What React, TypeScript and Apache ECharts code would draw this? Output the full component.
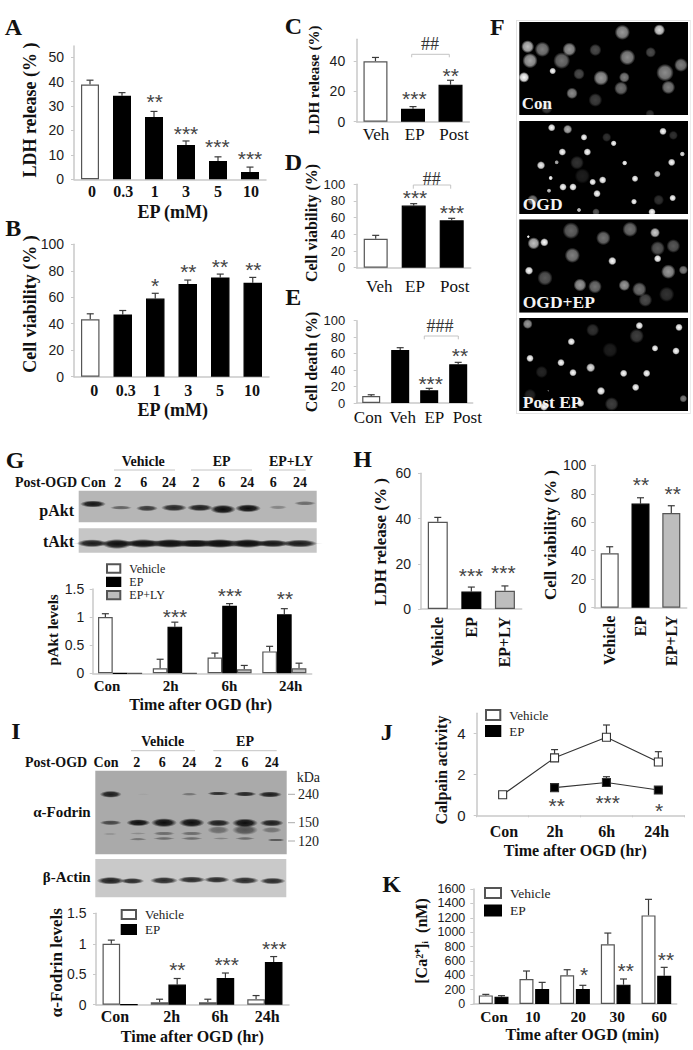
import React, { useEffect, useRef } from "react";
import * as echarts from "echarts";

const SERIF = '"Liberation Serif"';
const SANS = '"Liberation Sans"';

// ---- data ----
const doseCats = ["0", "0.3", "1", "3", "5", "10"];
const aValues = [38.8, 34.2, 25.5, 14, 7.5, 3];
const aErrTop = [40.6, 35.5, 27.8, 15.7, 9.2, 5];
const aTicks = [0, 10, 20, 30, 40, 50];
const bValues = [43.3, 47, 59, 70, 75, 71];
const bErrTop = [47.5, 50, 63, 73, 77.5, 75];
const pctTicks = [0, 20, 40, 60, 80, 100];
const vepCats = ["Veh", "EP", "Post"];
const cValues = [40, 8.5, 24.5];
const cErrTop = [42.5, 10, 27.4];
const cTicks = [0, 20, 40];
const dValues = [34.8, 74.5, 56.8];
const dErrTop = [38.8, 76.8, 59.2];
const eCats = ["Con", "Veh", "EP", "Post"];
const eValues = [8.5, 64.4, 15.4, 47];
const eErrTop = [10, 67.2, 17.8, 49.4];
const timeCats = ["Con", "2h", "6h", "24h"];
const gVehicle = [1, 0.09, 0.28, 0.39];
const gVehicleErr = [1.06, 0.25, 0.36, 0.48];
const gEP = [0, 0.83, 1.2, 1.05];
const gEPErr = [null, 0.91, 1.24, 1.15];
const gLY = [0, 0, 0.07, 0.09];
const gLYErr = [null, null, 0.14, 0.18];
const levelTicks = [0, 0.5, 1, 1.5];
const hCats = ["Vehicle", "EP", "EP+LY"];
const hLdh = [38.6, 7.7, 8.1];
const hLdhErr = [40.5, 9.7, 10.2];
const hLdhTicks = [0, 20, 40, 60];
const hVia = [38.2, 73.1, 66.5];
const hViaErr = [42.8, 77.2, 71.6];
const iVehicle = [1, 0.04, 0.04, 0.09];
const iVehicleErr = [1.06, 0.09, 0.09, 0.15];
const iEP = [0, 0.33, 0.44, 0.7];
const iEPErr = [null, 0.43, 0.52, 0.79];
const jVehicle = [1, 2.8, 3.8, 2.6];
const jVehicleErr = [null, 3.2, 4.4, 3.1];
const jEP = [null, 1.35, 1.6, 1.23];
const jEPErr = [null, null, 1.88, null];
const jTicks = [0, 2, 4];
const kCats = ["Con", "10", "20", "30", "60"];
const kVehicle = [120, 348, 399, 830, 1233];
const kVehicleErr = [134, 459, 477, 987, 1456];
const kEP = [102, 209, 209, 269, 394];
const kEPErr = [116, 301, 260, 348, 510];
const kTicks = [0, 200, 400, 600, 800, 1000, 1200, 1400, 1600];

// ---- colours ----
const WHITE = "#ffffff";
const BLACK = "#000000";
const GREY = "#bdbdbd";
const BORDER = "#555555";
const AXIS = "#c9c9c9";
const ERR = "#3a3a3a";

// ---- annotations: [x, y, text] ----
const stars: [number, number, string][] = [
  [154.7, 100, "**"], [186, 131.7, "***"], [217.3, 145, "***"], [250, 157.3, "***"],
  [155, 284.3, "*"], [188.3, 270, "**"], [220, 265, "**"], [253.3, 267.7, "**"],
  [414.3, 97.3, "***"], [450.7, 74, "**"],
  [415, 195.7, "***"], [452, 211, "***"],
  [430.7, 381.7, "***"], [460, 354.3, "**"],
  [175, 615, "***"], [230, 594.3, "***"], [285, 597.3, "**"],
  [471, 574.3, "***"], [503.3, 570.7, "***"],
  [641, 483.3, "**"], [672.7, 492.3, "**"],
  [177.3, 968.3, "**"], [226.7, 962.7, "***"], [274.3, 947.3, "***"],
  [556.7, 804, "**"], [607.7, 801, "***"], [659, 809, "*"],
  [584, 972.7, "*"], [625.7, 969.3, "**"], [666, 957.7, "**"],
];
const letters: [number, number, string][] = [
  [13.3, 26.7, "A"], [13.3, 228.3, "B"], [293.3, 25.7, "C"], [293.3, 162.3, "D"], [293.3, 297.3, "E"],
  [497.3, 26.7, "F"], [15, 460, "G"], [362.7, 459.3, "H"], [16, 730.7, "I"], [386.7, 731.7, "J"], [391.7, 884, "K"],
];
// [x1, x2, y, tickDrop, labelX, labelY, label]
const brackets: [number, number, number, number, number, number, string][] = [
  [411.7, 449.3, 54.3, 3, 430, 44, "##"],
  [413.3, 450.7, 185, 3.7, 431.7, 178.7, "##"],
  [424.3, 458.3, 336, 3.3, 440, 326, "###"],
];
// Western-blot lanes: [x, y, halfWidth, halfHeight, strength]
const pAktBands = [
  [93, 504, 13, 3.5, 0.95], [121, 507.7, 11, 2, 0.5], [147, 508.3, 11, 3, 0.75], [174, 507.7, 13, 3.5, 0.85],
  [200, 507.7, 13, 3.5, 0.9], [223, 509.3, 13, 4.5, 1], [248, 508.3, 13, 4, 1], [278, 507.3, 9, 2, 0.3], [305, 503.3, 11, 2.2, 0.45],
];
const tAktBands = [
  [197, 543.5, 126, 3.6, 0.75],
  [92, 543.3, 15, 4, 0.9], [117, 544, 15, 5, 0.95], [143, 543.5, 16, 4.5, 0.9], [170, 543.5, 16, 4.5, 0.9],
  [195, 543.5, 16, 4, 0.9], [220, 543.5, 16, 4.5, 0.95], [248, 543.5, 16, 4.5, 0.95], [273, 543.5, 15, 4, 0.85], [300, 543.5, 17, 4, 0.9],
];
const fodrinBands = [
  [110.7, 794.3, 11, 3.5, 0.9], [143.3, 794.3, 6, 1, 0.05], [189.3, 794.3, 8, 1.5, 0.35], [218.3, 793.5, 11, 2, 0.8], [245, 794, 11.5, 2.5, 0.85], [270, 794.5, 12, 3, 0.9],
  [110.7, 822.7, 11, 2.5, 0.65], [138.3, 822.7, 12, 3.5, 1], [164, 822.7, 13, 4.5, 1], [191.7, 822.7, 13, 4.5, 1], [218.3, 823, 12, 3.5, 0.9], [245, 823, 13, 4.5, 1], [271.7, 823, 12, 3.5, 0.9],
  [110, 834, 8, 1, 0.15], [138, 833.5, 8, 1.2, 0.2], [138, 839.3, 9, 1.4, 0.35], [164, 833.5, 11, 2, 0.4], [164, 838.5, 11, 1.5, 0.4],
  [191.7, 833.5, 11, 2, 0.4], [191.7, 838.5, 11, 1.5, 0.4], [218.3, 830, 11, 4, 0.4], [221, 838.5, 8, 1.2, 0.25],
  [245, 830, 13, 5, 0.55], [245, 838.5, 10, 1.5, 0.4], [271.7, 830, 10, 3, 0.35], [276, 840, 9, 1.5, 0.55],
];
const actinBands = [
  [110.7, 880.7, 14, 3.8, 0.9], [132.3, 881, 12, 3, 0.85], [164, 880.5, 14, 3.5, 0.85], [191.7, 879.7, 14, 3.3, 0.85],
  [216.7, 879.7, 13, 3.2, 0.85], [245, 880.5, 14, 3.5, 0.85], [272.7, 881, 13, 3.3, 0.85],
];
// Micrograph nuclei, in a 3x working grid: [x, y, radius, brightness]
const nucleiCon = [
  [563, 140, 17, 0.75], [607, 148, 20, 0.5], [570, 182, 20, 0.65], [665, 182, 22, 0.45], [688, 148, 18, 0.6], [766, 150, 16, 0.3],
  [847, 97, 20, 0.6], [958, 90, 15, 0.85], [862, 172, 21, 0.55], [932, 157, 14, 0.3], [638, 213, 9, 1], [717, 222, 15, 0.3],
  [552, 232, 14, 1], [783, 234, 20, 0.6], [853, 232, 14, 0.5], [975, 218, 23, 0.55], [1023, 195, 18, 0.5], [843, 265, 18, 0.45],
  [985, 262, 18, 0.5], [696, 280, 15, 0.55], [766, 300, 18, 0.25], [620, 325, 15, 0.25], [930, 342, 12, 0.2],
];
const nucleiOGD = [
  [635, 383, 10, 1], [683, 388, 12, 0.7], [732, 412, 9, 1], [800, 412, 12, 0.2], [821, 430, 8, 1], [969, 394, 10, 1], [1000, 406, 12, 0.2],
  [667, 456, 10, 1], [742, 456, 10, 1], [1027, 462, 7, 0.9], [603, 496, 11, 0.95], [650, 487, 6, 0.7], [711, 488, 18, 0.2], [854, 489, 7, 1],
  [995, 487, 10, 1], [727, 528, 20, 0.12], [632, 534, 6, 1], [952, 522, 9, 0.8], [669, 561, 10, 1], [699, 561, 10, 1], [758, 546, 9, 1],
  [788, 540, 10, 1], [885, 536, 9, 1], [627, 572, 6, 0.8], [771, 581, 10, 1], [578, 600, 14, 0.5], [882, 605, 8, 1], [956, 600, 14, 0.2],
  [998, 594, 9, 1], [717, 630, 6, 0.8], [768, 636, 10, 0.35], [936, 636, 10, 1],
];
const nucleiOGDEP = [
  [565, 710, 4, 1], [581, 730, 16, 0.75], [613, 727, 11, 1], [693, 692, 22, 0.4], [790, 714, 19, 0.45], [870, 688, 20, 0.45], [945, 698, 13, 0.8],
  [697, 766, 20, 0.5], [953, 745, 19, 0.35], [1000, 738, 18, 0.35], [953, 776, 10, 1], [817, 783, 11, 1], [567, 812, 11, 1], [615, 834, 20, 0.35],
  [985, 815, 19, 0.6], [1030, 810, 12, 0.5], [720, 855, 17, 0.6], [765, 860, 18, 0.45], [853, 856, 15, 0.6], [898, 868, 19, 0.45], [916, 900, 18, 0.3], [980, 883, 20, 0.2],
];
const nucleiPost = [
  [563, 972, 13, 0.6], [758, 990, 17, 0.2], [898, 977, 10, 1], [1017, 982, 10, 1], [890, 1008, 19, 0.25], [694, 1025, 10, 1], [810, 1050, 20, 0.12],
  [945, 1045, 9, 1], [1008, 1053, 10, 1], [570, 1075, 10, 1], [663, 1088, 10, 1], [605, 1116, 16, 0.15], [699, 1118, 10, 1], [752, 1103, 12, 0.9],
  [851, 1120, 10, 1], [920, 1120, 10, 1], [887, 1162, 10, 1], [783, 1173, 11, 1], [625, 1172, 3, 0.4], [570, 1185, 16, 0.15], [1030, 1196, 10, 0.5],
  [722, 1210, 10, 1], [815, 1212, 18, 0.25], [612, 1220, 11, 1],
];

// ---- option builders ----
type SeriesDef = { name: string; values: (number | null)[]; err: (number | null)[]; color?: string; colors?: string[]; line?: boolean };
type PanelDef = {
  rect: [number, number, number, number];
  max: number;
  ticks: number[];
  tickSize?: number;
  tickMargin?: number;
  cats: string[];
  series: SeriesDef[];
  barWidth: number;
  barGap?: number;
  catFont: string;
  catSize: number;
  catY?: number;
  catX?: number[];
  catRotate?: number;
  xName?: string;
  xNameAt?: [number, number];
  xNameSize?: number;
  yName: string;
  yNameAt: [number, number];
  yNameSize: number;
  capHalf?: number;
  catTicks?: boolean;
};

const grids: any[] = [];
const xAxes: any[] = [];
const yAxes: any[] = [];
const seriesList: any[] = [];

function shiftPadding(d: number) {
  return d >= 0 ? [0, 0, 0, 2 * d] : [0, -2 * d, 0, 0];
}

function addPanel(p: PanelDef) {
  const [l, t, r, b] = p.rect;
  const gridIndex = grids.length;
  grids.push({ left: l, top: t, width: r - l, height: b - t, containLabel: false });
  const band = (r - l) / p.cats.length;
  const catData = p.cats.map((c, i) =>
    p.catX
      ? { value: c, textStyle: { padding: shiftPadding(p.catX[i] - (l + band * (i + 0.5))) } }
      : c
  );
  const x: any = {
    type: "category",
    gridIndex,
    data: catData,
    boundaryGap: true,
    axisLine: { show: true, lineStyle: { color: AXIS, width: 1.5 } },
    axisTick: { show: !!p.catTicks, length: 2, lineStyle: { color: AXIS } },
    axisLabel: {
      interval: 0,
      hideOverlap: false,
      rotate: p.catRotate || 0,
      margin: p.catRotate ? 8 : (p.catY as number) - b - p.catSize / 2,
      color: "#111",
      fontFamily: SERIF,
      fontWeight: p.catFont,
      fontSize: p.catSize,
    },
    splitLine: { show: false },
  };
  if (p.xName && p.xNameAt) {
    const size = p.xNameSize || 16;
    Object.assign(x, {
      name: p.xName,
      nameLocation: "middle",
      nameMoveOverlap: false,
      nameGap: p.xNameAt[1] - b - size / 2,
      nameTextStyle: {
        fontFamily: SERIF,
        fontWeight: "bold",
        fontSize: size,
        color: "#111",
        padding: shiftPadding(p.xNameAt[0] - (l + r) / 2),
      },
    });
  }
  xAxes.push(x);
  yAxes.push({
    type: "value",
    gridIndex,
    min: 0,
    max: p.max,
    name: p.yName,
    nameLocation: "middle",
    nameRotate: 90,
    nameMoveOverlap: false,
    nameGap: l - p.yNameAt[0] - p.yNameSize / 2,
    nameTextStyle: {
      fontFamily: SERIF,
      fontWeight: "bold",
      fontSize: p.yNameSize,
      color: "#111",
      padding: shiftPadding((t + b) / 2 - p.yNameAt[1]),
    },
    axisLine: { show: true, lineStyle: { color: AXIS, width: 1.5 } },
    axisTick: { show: true, length: 3, lineStyle: { color: AXIS }, customValues: p.ticks },
    axisLabel: {
      customValues: p.ticks,
      formatter: (v: number) => String(v),
      margin: p.tickMargin ?? 10,
      color: "#1c1c1c",
      fontFamily: SANS,
      fontSize: p.tickSize || 14,
    },
    splitLine: { show: false },
  });
  const n = p.series.filter((s) => !s.line).length || 1;
  const gap = p.barGap ?? 0;
  p.series.forEach((s, idx) => {
    const dx = s.line ? 0 : (idx - (n - 1) / 2) * p.barWidth * (1 + gap);
    const errData = s.values
      .map((v, i) => [i, v, s.err[i]])
      .filter((d) => d[1] !== null && d[2] !== null);
    const cap = p.capHalf ?? 3.5;
    seriesList.push({
      type: "custom",
      name: s.name + " error",
      xAxisIndex: gridIndex,
      yAxisIndex: gridIndex,
      data: errData,
      encode: { x: 0, y: [1, 2] },
      silent: true,
      z: 1,
      renderItem: (_: any, api: any) => {
        const a = api.coord([api.value(0), api.value(1)]);
        const e = api.coord([api.value(0), api.value(2)]);
        const st = { stroke: ERR, lineWidth: 1.2, fill: "none" };
        return {
          type: "group",
          children: [
            { type: "line", shape: { x1: a[0] + dx, y1: a[1], x2: e[0] + dx, y2: e[1] }, style: st },
            { type: "line", shape: { x1: a[0] + dx - cap, y1: e[1], x2: a[0] + dx + cap, y2: e[1] }, style: st },
          ],
        };
      },
    });
    if (s.line) {
      seriesList.push({
        type: "line",
        name: s.name,
        xAxisIndex: gridIndex,
        yAxisIndex: gridIndex,
        data: s.values,
        symbol: "rect",
        symbolSize: 8,
        showSymbol: true,
        z: 3,
        lineStyle: { color: "#333", width: 1.1 },
        itemStyle: { color: s.color, borderColor: "#333", borderWidth: 1.1 },
      });
    } else {
      const base = s.color || (s.colors as string[])[0];
      seriesList.push({
        type: "bar",
        name: s.name,
        xAxisIndex: gridIndex,
        yAxisIndex: gridIndex,
        barWidth: p.barWidth,
        barGap: `${gap * 100}%`,
        z: 2,
        itemStyle: { color: base, borderColor: base === BLACK ? BLACK : BORDER, borderWidth: 1.2 },
        data: s.values.map((v, i) => {
          const c = s.colors ? s.colors[i] : (s.color as string);
          return {
            value: v,
            itemStyle: { color: c, borderColor: c === BLACK ? BLACK : BORDER, borderWidth: 1.2 },
          };
        }),
      });
    }
  });
}

const whiteThenBlack = (n: number) => [WHITE, ...Array(n - 1).fill(BLACK)];

addPanel({
  rect: [74, 46, 266, 179.3], max: 54.6, ticks: aTicks, cats: doseCats, barWidth: 18,
  series: [{ name: "LDH release", values: aValues, err: aErrTop, colors: whiteThenBlack(6) }],
  catFont: "bold", catSize: 16, catY: 191, catX: [92, 123.3, 154.7, 186, 218, 251],
  xName: "EP (mM)", xNameAt: [172.7, 211.7], xNameSize: 18,
  yName: "LDH release (% )", yNameAt: [30, 110], yNameSize: 18,
});
addPanel({
  rect: [74, 244.3, 269, 376.7], max: 100, ticks: pctTicks, cats: doseCats, barWidth: 18.5,
  series: [{ name: "Cell viability", values: bValues, err: bErrTop, colors: whiteThenBlack(6) }],
  catFont: "bold", catSize: 16, catY: 390, catX: [94.3, 125.7, 156.7, 188.3, 220, 252],
  xName: "EP (mM)", xNameAt: [172.7, 410], xNameSize: 18,
  yName: "Cell viability (% )", yNameAt: [30, 304], yNameSize: 18,
});
addPanel({
  rect: [356.7, 39.3, 469.3, 121.7], max: 54.5, ticks: cTicks, cats: vepCats, barWidth: 24,
  series: [{ name: "LDH", values: cValues, err: cErrTop, colors: whiteThenBlack(3) }],
  catFont: "normal", catSize: 17, catY: 134.7, catX: [376, 414.7, 454], tickMargin: 11.5,
  yName: "LDH release (%)", yNameAt: [314, 80], yNameSize: 15,
});
addPanel({
  rect: [356.7, 184.3, 470.7, 267.7], max: 100, ticks: pctTicks, cats: vepCats, barWidth: 24, tickSize: 13, tickMargin: 11.5,
  series: [{ name: "Viability", values: dValues, err: dErrTop, colors: whiteThenBlack(3) }],
  catFont: "normal", catSize: 17, catY: 286, catX: [379.3, 415, 454.7],
  yName: "Cell viability (%)", yNameAt: [311, 223], yNameSize: 16,
});
addPanel({
  rect: [356.7, 320.7, 472.7, 403], max: 100, ticks: pctTicks, cats: eCats, barWidth: 18, tickSize: 13, tickMargin: 11.5,
  series: [{ name: "Death", values: eValues, err: eErrTop, colors: whiteThenBlack(4) }],
  catFont: "normal", catSize: 17, catY: 417.7, catX: [368, 402.7, 434.3, 467.3],
  yName: "Cell death (%)", yNameAt: [311, 362], yNameSize: 16,
});
addPanel({
  rect: [92.7, 589, 311.7, 673.3], max: 1.5, ticks: levelTicks, cats: timeCats, barWidth: 14.7, tickMargin: 8.5,
  series: [
    { name: "Vehicle", values: gVehicle, err: gVehicleErr, color: WHITE },
    { name: "EP", values: gEP, err: gEPErr, color: BLACK },
    { name: "EP+LY", values: gLY, err: gLYErr, color: GREY },
  ],
  catFont: "bold", catSize: 15, catY: 686, catX: [107, 170.7, 229.3, 290.7],
  xName: "Time after OGD (hr)", xNameAt: [200.7, 704.3], xNameSize: 16,
  yName: "pAkt levels", yNameAt: [53, 630], yNameSize: 15,
});
addPanel({
  rect: [421, 473.3, 521.7, 609], max: 60, ticks: hLdhTicks, cats: hCats, barWidth: 20,
  series: [{ name: "LDH H", values: hLdh, err: hLdhErr, colors: [WHITE, BLACK, GREY] }],
  catFont: "bold", catSize: 16, catRotate: 90,
  yName: "LDH release (% )", yNameAt: [380.7, 542], yNameSize: 17,
});
addPanel({
  rect: [594.3, 465.3, 686.7, 607.7], max: 100, ticks: pctTicks, cats: hCats, barWidth: 18, tickMargin: 8,
  series: [{ name: "Viability H", values: hVia, err: hViaErr, colors: [WHITE, BLACK, GREY] }],
  catFont: "bold", catSize: 16, catRotate: 90,
  yName: "Cell viability (% )", yNameAt: [550, 535], yNameSize: 17,
});
addPanel({
  rect: [96, 913.3, 289, 1004.7], max: 1.5, ticks: levelTicks, cats: timeCats, barWidth: 17.6, tickMargin: 9.5,
  series: [
    { name: "Vehicle", values: iVehicle, err: iVehicleErr, color: WHITE },
    { name: "EP", values: iEP, err: iEPErr, color: BLACK },
  ],
  catFont: "bold", catSize: 16, catY: 1016.7, catX: [115, 171.7, 220, 267.3],
  xName: "Time after OGD (hr)", xNameAt: [192.3, 1036.7], xNameSize: 16,
  yName: "α-Fodrin levels", yNameAt: [56, 962.7], yNameSize: 17,
});
addPanel({
  rect: [476.7, 713.3, 684.3, 815.3], max: 4.97, ticks: jTicks, cats: timeCats, barWidth: 10, tickMargin: 11, tickSize: 15, catTicks: true,
  series: [
    { name: "Vehicle", values: jVehicle, err: jVehicleErr, color: WHITE, line: true },
    { name: "EP", values: jEP, err: jEPErr, color: BLACK, line: true },
  ],
  catFont: "bold", catSize: 16, catY: 831.7, catX: [504, 555, 606.7, 656.7],
  xName: "Time after OGD (hr)", xNameAt: [575.3, 850.7], xNameSize: 16,
  yName: "Calpain activity", yNameAt: [441.7, 770], yNameSize: 16,
});
addPanel({
  rect: [473.3, 889, 676.7, 1004], max: 1600, ticks: kTicks, cats: kCats, barWidth: 14, barGap: 0.12, tickSize: 12.5, tickMargin: 8,
  series: [
    { name: "Vehicle", values: kVehicle, err: kVehicleErr, color: WHITE },
    { name: "EP", values: kEP, err: kEPErr, color: BLACK },
  ],
  catFont: "bold", catSize: 15.5, catY: 1016, catX: [494, 532.7, 578.3, 617.3, 659.3],
  xName: "Time after OGD (min)", xNameAt: [582.3, 1034.3], xNameSize: 16,
  yName: "[Ca²⁺]ᵢ  (nM)", yNameAt: [421.7, 941], yNameSize: 16,
});

function legend(left: number, top: number, w: number, h: number, gap: number, size: number, names: string[]) {
  return {
    left, top, orient: "vertical", icon: "rect", itemWidth: w, itemHeight: h, itemGap: gap, padding: 0, selectedMode: false,
    data: names,
    textStyle: { fontFamily: SERIF, fontSize: size, color: "#222", padding: [0, 0, 0, 4] },
  };
}
const legends = [
  legend(106, 562.5, 13.3, 8.3, 1.3, 12, ["Vehicle", "EP", "EP+LY"]),
  legend(120.7, 908, 14.3, 9, 2, 13, ["Vehicle", "EP"]),
  legend(485, 708.5, 14.3, 10, 3, 13, ["Vehicle", "EP"]),
  legend(484, 886, 16, 10, 3.5, 13.5, ["Vehicle", "EP"]),
];

// ---- graphic helpers ----
function label(x: number, y: number, text: string, font: string, align = "center", fill = "#111") {
  return {
    type: "text",
    silent: true,
    x, y,
    style: { text, font, fill, align, verticalAlign: "middle", textAlign: align, textVerticalAlign: "middle" },
  };
}
function box(x: number, y: number, w: number, h: number, fill: string) {
  return { type: "rect", silent: true, shape: { x, y, width: w, height: h }, style: { fill } };
}
function seg(x1: number, y1: number, x2: number, y2: number, stroke = "#c4c4c4", lineWidth = 1) {
  return { type: "line", silent: true, shape: { x1, y1, x2, y2 }, style: { stroke, lineWidth } };
}
function band(b: number[]) {
  const [cx, cy, rx, ry, s] = b;
  return {
    type: "ellipse",
    silent: true,
    shape: { cx, cy, rx, ry },
    style: {
      fill: new echarts.graphic.RadialGradient(0.5, 0.5, 0.5, [
        { offset: 0, color: `rgba(12,12,12,${s})` },
        { offset: 0.6, color: `rgba(12,12,12,${s * 0.85})` },
        { offset: 1, color: "rgba(12,12,12,0)" },
      ]),
    },
  };
}
function nucleus(n: number[]) {
  const [zx, zy, zr, v] = n;
  const x = 340 + zx / 3;
  const y = zy / 3;
  const r = (zr / 3) * 1.15;
  const c = (a: number) => `rgba(255,255,255,${a})`;
  return {
    type: "circle",
    silent: true,
    shape: { cx: x, cy: y, r },
    style: {
      fill: new echarts.graphic.RadialGradient(0.5, 0.5, 0.5, [
        { offset: 0, color: c(v) },
        { offset: 0.65, color: c(v * 0.8) },
        { offset: 1, color: c(0) },
      ]),
    },
  };
}

const B14 = `bold 14px ${SERIF}`;
const B16 = `bold 16px ${SERIF}`;
const STAR_FONT = `21px ${SANS}`;
const elements: any[] = [];

letters.forEach(([x, y, t]) => elements.push(label(x, y, t, `bold 24px ${SERIF}`)));
stars.forEach(([x, y, t]) => elements.push(label(x, y + 1.5, t, STAR_FONT, "center", "#444")));
brackets.forEach(([x1, x2, y, d, lx, ly, t]) => {
  elements.push(seg(x1, y, x2, y), seg(x1, y, x1, y + d), seg(x2, y, x2, y + d));
  elements.push(label(lx, ly, t, `18px ${SERIF}`, "center", "#333"));
});

// F: micrographs
elements.push(box(516, 20, 174.7, 394, "#e4e4e4"), box(517, 21, 172.7, 392, "#ffffff"));
[[22, 115], [121, 214], [219.3, 312.7], [318, 411]].forEach(([a, b]) => elements.push(box(519.3, a, 168.7, b - a, "#000")));
[...nucleiCon, ...nucleiOGD, ...nucleiOGDEP, ...nucleiPost].forEach((n) => elements.push(nucleus(n)));
[[115, 6], [214, 5.3], [312.7, 5.3], [411, 2]].forEach(([y, h]) => elements.push(box(517, y, 172.7, h, "#fff")));
elements.push(box(688, 21, 1.7, 392, "#fff"));
elements.push(label(521.7, 103.3, "Con", `bold 17px ${SERIF}`, "left", "#f4f4f4"));
elements.push(label(522.7, 204, "OGD", `bold 17.5px ${SERIF}`, "left", "#f4f4f4"));
elements.push(label(522.7, 302, "OGD+EP", `bold 17.5px ${SERIF}`, "left", "#f4f4f4"));
elements.push(label(522.7, 401.7, "Post EP", `bold 17.5px ${SERIF}`, "left", "#f4f4f4"));

// G: blots
elements.push(box(78.7, 490.7, 238, 31.6, "#b6b6b6"), box(78.7, 528.3, 238, 24.4, "#c6c6c6"));
pAktBands.forEach((b) => elements.push(band(b)));
tAktBands.forEach((b) => elements.push(band(b)));
elements.push(label(143.3, 461.7, "Vehicle", B14), label(221.7, 461.7, "EP", B14), label(291, 461.7, "EP+LY", B14));
elements.push(seg(114, 470, 175, 470), seg(191, 470, 252, 470), seg(269, 470, 305.7, 470));
elements.push(label(15, 482.7, "Post-OGD", B14, "left"));
([[93.3, "Con"], [117.7, "2"], [143.7, "6"], [169, "24"], [196, "2"], [221.7, "6"], [247.3, "24"], [273.3, "6"], [300, "24"]] as [number, string][]).forEach(([x, t]) =>
  elements.push(label(x, 482.7, t, B14))
);
elements.push(label(74, 510.7, "pAkt", B16, "right"), label(74, 541.7, "tAkt", B16, "right"));

// I: blots
elements.push(box(95.3, 770.7, 191.4, 83.6, "#aaaaaa"), box(95.3, 859, 191, 38.3, "#c9c9c9"));
fodrinBands.forEach((b) => elements.push(band(b)));
actinBands.forEach((b) => elements.push(band(b)));
elements.push(label(162.7, 741.7, "Vehicle", B14), label(245, 741.7, "EP", B14));
elements.push(seg(131, 750.7, 195, 750.7), seg(213.3, 750.7, 276.7, 750.7));
elements.push(label(25, 762.7, "Post-OGD", B14, "left"));
([[106, "Con"], [136.7, "2"], [162.3, "6"], [189.3, "24"], [218.3, "2"], [245, "6"], [271.7, "24"]] as [number, string][]).forEach(([x, t]) =>
  elements.push(label(x, 762.7, t, B14))
);
elements.push(label(90.7, 812.3, "α-Fodrin", `bold 15px ${SERIF}`, "right"), label(90.7, 877.3, "β-Actin", `bold 15px ${SERIF}`, "right"));
elements.push(label(296.7, 777.3, "kDa", `14px ${SERIF}`, "left", "#222"));
([[794.3, "240"], [822.7, "150"], [841, "120"]] as [number, string][]).forEach(([y, t]) => {
  elements.push(seg(288, y, 295, y, "#aaa"), label(298, y, t, `14px ${SERIF}`, "left", "#222"));
});

const option: any = {
  animation: false,
  backgroundColor: "#ffffff",
  grid: grids,
  xAxis: xAxes,
  yAxis: yAxes,
  series: seriesList,
  legend: legends,
  tooltip: { show: false },
  graphic: { elements },
};

export default function App() {
  const ref = useRef<HTMLDivElement>(null);
  useEffect(() => {
    const chart = echarts.init(ref.current as HTMLDivElement, undefined, { renderer: "svg" });
    chart.setOption(option);
    return () => chart.dispose();
  }, []);
  return <div ref={ref} style={{ position: "absolute", left: 0, top: 0, width: 693, height: 1050 }} />;
}
